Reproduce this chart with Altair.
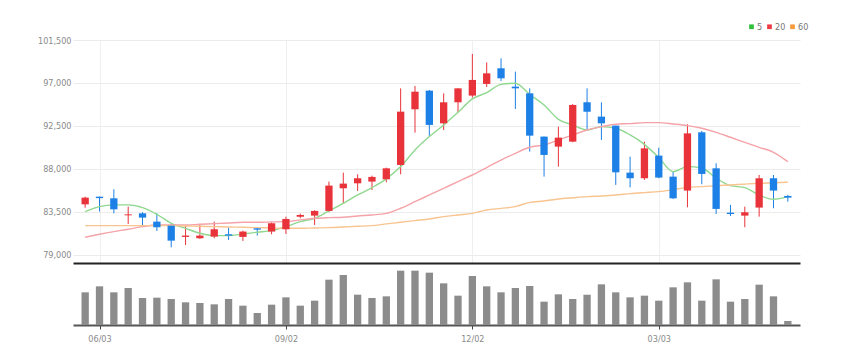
import altair as alt
import pandas as pd

# weekly candles (index 0..49)
opens = [84300, 85100, 84930, 83150, 83360, 82490, 82070, 80890, 80750, 80920,
         81170, 80890, 81790, 81450, 81690, 83000, 83120, 83610, 85980, 86500,
         86680, 86920, 88420, 94250, 96200, 92780, 94980, 95680, 96900, 98540,
         96620, 95920, 91390, 90340, 90860, 94980, 93480, 92540, 87620, 87030,
         89400, 87200, 85740, 91840, 88070, 83430, 83120, 83960, 87030, 85180]
closes = [85000, 84950, 83780, 83250, 82910, 81900, 80500, 81030, 81030, 81690,
          81030, 81450, 81650, 82320, 82770, 83190, 83610, 86260, 86470, 87030,
          87170, 88070, 94000, 96090, 92610, 94980, 96440, 97320, 98010, 97490,
          96440, 91490, 89470, 91280, 94700, 94000, 92780, 87650, 87030, 90160,
          87100, 84930, 91730, 87480, 83820, 83290, 83470, 87030, 85740, 85000]
highs = [85100, 85100, 85870, 84060, 83470, 83360, 82250, 82040, 82140, 82490,
         81860, 81550, 81860, 82420, 83010, 83330, 83680, 86680, 87620, 87440,
         87300, 88140, 96440, 96690, 96270, 95920, 96440, 100040, 99160, 99580,
         98190, 96440, 91390, 92430, 94800, 96440, 94980, 92540, 89290, 90860,
         90230, 87720, 92680, 91980, 88600, 84240, 84060, 87370, 87370, 85280]
lows = [83950, 83550, 83360, 82250, 81970, 81510, 79800, 80050, 80680, 80750,
        80570, 80470, 81030, 81170, 81200, 82840, 82140, 83470, 84410, 85700,
        85800, 86610, 87440, 91800, 91460, 92080, 93930, 95470, 96580, 97210,
        94280, 89820, 87200, 88250, 90790, 92080, 91040, 86330, 86080, 86850,
        87030, 84860, 83990, 86400, 83290, 83080, 81900, 83010, 83890, 84580]
volumes = [98, 116, 98, 111, 81, 82, 78, 68, 66, 62,
           78, 58, 36, 61, 83, 58, 73, 136, 150, 91,
           81, 86, 163, 163, 157, 125, 88, 147, 116, 98,
           111, 117, 70, 92, 78, 91, 122, 98, 83, 88,
           73, 113, 128, 73, 137, 70, 78, 121, 86, 12]

# moving averages
ma5 = [83540, 84060, 84240, 84240, 83960, 83260, 82320, 81790, 81270, 81030,
       81030, 81200, 81380, 81550, 81970, 82490, 82840, 83610, 84410, 85280,
       86050, 86960, 88250, 89990, 91390, 92610, 93930, 95330, 95990, 96860,
       96970, 95800, 94700, 93200, 92610, 92080, 92430, 92260, 91560, 90580,
       89190, 87720, 88250, 88100, 87030, 86260, 86050, 85280, 84830, 85110]
ma20 = [80850, 81170, 81450, 81690, 81970, 82140, 82140, 82140, 82210, 82280,
        82350, 82420, 82420, 82460, 82490, 82670, 82840, 82910, 82950, 83080,
        83190, 83360, 83890, 84580, 85280, 85980, 86680, 87370, 88140, 88940,
        89640, 90270, 90510, 91040, 91560, 92080, 92430, 92680, 92750, 92850,
        92850, 92710, 92540, 92260, 91840, 91320, 90790, 90270, 89750, 88770]
ma60 = [82070, 82070, 82070, 82070, 82070, 82070, 82070, 82040, 82000, 81970,
        81930, 81900, 81860, 81830, 81790, 81790, 81830, 81860, 81930, 82000,
        82070, 82250, 82420, 82600, 82770, 83010, 83190, 83360, 83710, 83880,
        84060, 84510, 84650, 84860, 84990, 85110, 85180, 85280, 85420, 85530,
        85630, 85840, 86080, 86150, 86250, 86330, 86420, 86500, 86560, 86610]

tick_idx = [1, 14, 27, 40]
tick_labels = ["06/03", "09/02", "12/02", "03/03"]

ma_names = ["5", "20", "60"]
ma_colors = ["#8fd88f", "#f5a3a8", "#f8c490"]
legend_colors = ["#2fbf3a", "#ee3b45", "#f89a3c"]

idx = list(range(len(opens)))
candles = pd.DataFrame({"i": idx, "open": opens, "close": closes,
                        "high": highs, "low": lows, "volume": volumes})
ma_df = pd.concat([
    pd.DataFrame({"i": idx, "ma": vals, "name": n})
    for n, vals in zip(ma_names, [ma5, ma20, ma60])
])

label_map = "{" + ",".join(f"'{k}':'{v}'" for k, v in zip(tick_idx, tick_labels)) + "}"
FONT = "Liberation Sans Narrow, DejaVu Sans Condensed, Liberation Sans, sans-serif"
RED = "#e8333a"
BLUE = "#1c80e6"

xscale = alt.Scale(domain=[-0.5, len(idx) - 0.5], nice=False, zero=False)
yscale = alt.Scale(domain=[78160, 101500], nice=False, zero=False)

x_price = alt.X("i:Q", scale=xscale, title=None,
                axis=alt.Axis(values=tick_idx, labels=False, ticks=False, grid=True,
                              gridColor="#efefef", domainColor="#222", domainWidth=2))
y_price = alt.Y("low:Q", scale=yscale, title=None,
                axis=alt.Axis(values=[79000, 83500, 88000, 92500, 97000, 101500],
                              format=",d", grid=True, gridColor="#ececec", domain=False,
                              ticks=False, labelColor="#8a8a8a", labelFont=FONT,
                              labelFontSize=9, labelPadding=2))
col_cond = alt.condition("datum.open < datum.close", alt.value(RED), alt.value(BLUE))

lines = alt.Chart(ma_df).mark_line(interpolate="monotone", strokeWidth=1.4).encode(
    x=alt.X("i:Q", scale=xscale),
    y=alt.Y("ma:Q", scale=yscale),
    color=alt.Color("name:N", scale=alt.Scale(domain=ma_names, range=ma_colors),
                    legend=None),
)
legend_src = alt.Chart(ma_df).mark_point(opacity=0, filled=True, shape="square").encode(
    x=alt.X("i:Q", scale=xscale),
    y=alt.Y("ma:Q", scale=yscale),
    fill=alt.Fill("name:N", scale=alt.Scale(domain=ma_names, range=legend_colors),
                  legend=alt.Legend(title=None, orient="none", direction="horizontal",
                                    legendX=674, legendY=-18, symbolType="square",
                                    symbolSize=22, symbolOpacity=1, symbolStrokeWidth=0,
                                    labelFont=FONT, labelFontSize=9,
                                    labelColor="#777", columnPadding=2,
                                    labelOffset=1)),
)
wicks = alt.Chart(candles).mark_rule(strokeWidth=1).encode(
    x=x_price, y=y_price, y2="high:Q", color=col_cond)
bodies = alt.Chart(candles).mark_bar(width=7.3).encode(
    x=alt.X("i:Q", scale=xscale), y=alt.Y("open:Q", scale=yscale), y2="close:Q",
    color=col_cond)

price = alt.layer(wicks, lines, bodies, legend_src).resolve_scale(
    color="independent").properties(width=727, height=223)

vol = alt.Chart(candles).mark_bar(width=7.3, color="#8c8c8c").encode(
    x=alt.X("i:Q", scale=xscale, title=None,
            axis=alt.Axis(values=tick_idx, labelExpr=label_map + "[datum.value]",
                          grid=False, ticks=True, tickColor="#444", tickSize=4,
                          domainColor="#555", domainWidth=2, labelColor="#8a8a8a",
                          labelFont=FONT, labelFontSize=9, labelPadding=5)),
    y=alt.Y("volume:Q", scale=alt.Scale(domain=[0, 186], nice=False), axis=None),
).properties(width=727, height=62)

chart = alt.vconcat(price, vol, spacing=0).properties(
    padding={"left": 29, "top": 14, "right": 5, "bottom": 5},
).configure_view(stroke=None)

chart.save("out.html", embed_options={"renderer": "svg", "actions": False})
